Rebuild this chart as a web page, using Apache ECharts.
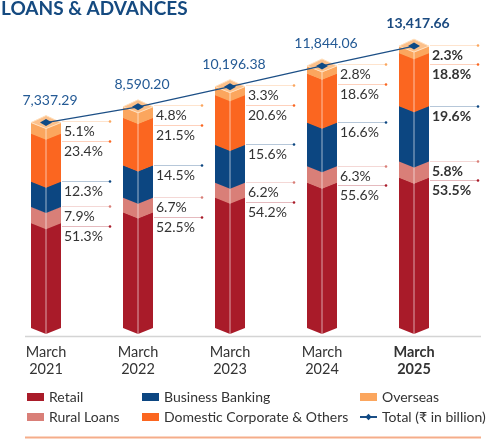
<!DOCTYPE html>
<html><head><meta charset="utf-8">
<script src="https://cdn.jsdelivr.net/npm/echarts@6/dist/echarts.min.js"></script>
<style>html,body{margin:0;padding:0;background:#fff}#c{width:487px;height:441px}</style>
</head><body><div id="c"></div>
<script>
// ---- data ----
const years = ['2021', '2022', '2023', '2024', '2025'];
const totals = [7337.29, 8590.20, 10196.38, 11844.06, 13417.66];
const retail = [51.3, 52.5, 54.2, 55.6, 53.5];
const rural = [7.9, 6.7, 6.2, 6.3, 5.8];
const business = [12.3, 14.5, 15.6, 16.6, 19.6];
const domestic = [23.4, 21.5, 20.6, 18.6, 18.8];
const overseas = [5.1, 4.8, 3.3, 2.8, 2.3];

const segNames = ['Retail', 'Rural Loans', 'Business Banking', 'Domestic Corporate & Others', 'Overseas'];
const segData = [retail, rural, business, domestic, overseas];
const segColors = ['#a91b29', '#d97f78', '#0c4681', '#fb6620', '#fba65e'];
const Y_MIN = -9000, Y_MAX = 14000;
const FONT = 'Lato, "Noto Sans", "DejaVu Sans", sans-serif';

function rgba(hex, a) {
  const n = parseInt(hex.slice(1), 16);
  return 'rgba(' + (n >> 16 & 255) + ',' + (n >> 8 & 255) + ',' + (n & 255) + ',' + a + ')';
}

function layout(api, i) {
  const xc = api.coord([i, 0])[0];
  const yBase = api.coord([i, Y_MIN])[1];
  const yTop = api.coord([i, totals[i]])[1];
  const H = yBase - yTop;
  const pcts = segData.map(a => a[i]);
  const sum = pcts.reduce((s, v) => s + v, 0);
  const bounds = [];
  let acc = 0;
  for (let k = 0; k < 5; k++) {
    const b = yBase - H * acc / sum;
    acc += pcts[k];
    const t = yBase - H * acc / sum;
    bounds.push([b, t]);
  }
  const lines = new Array(5);
  let prev = -Infinity;
  for (let k = 4; k >= 0; k--) {
    const ly = Math.max(bounds[k][1] - (k === 4 ? 1.5 : 0), prev + 19.5);
    lines[k] = ly; prev = ly;
  }
  return { xc, yBase, yTop, bounds, lines };
}

function makeRender(k) {
  return function (params, api) {
    const i = api.value(0);
    const L = layout(api, i);
    const w = 15, d = 6;
    const xc = L.xc, xl = xc - w, xr = xc + w;
    const yb = L.bounds[k][0] + (k === 0 ? 0 : 0.6);
    const yt = L.bounds[k][1];
    const col = segColors[k];
    const bold = i === 4;
    const ch = [];
    ch.push({ type: 'polygon', shape: { points: [[xl, yt], [xc, yt + d], [xc, yb + d], [xl, yb]] }, style: { fill: col } });
    ch.push({ type: 'polygon', shape: { points: [[xc, yt + d], [xr, yt], [xr, yb], [xc, yb + d]] }, style: { fill: col } });
    ch.push({ type: 'line', shape: { x1: xc, y1: yt + d, x2: xc, y2: yb + d }, style: { stroke: 'rgba(255,255,255,0.6)', lineWidth: 1 } });
    if (k === 4) {
      ch.push({ type: 'polygon', shape: { points: [[xl, yt], [xc, yt - 7], [xr, yt], [xc, yt + d]] }, style: { fill: '#fcc08a', stroke: '#ffe0bf', lineWidth: 1 } });
    }
    const ly = Math.round(L.lines[k]) + 0.5;
    ch.push({ type: 'line', shape: { x1: xr + 1, y1: ly, x2: xc + 64, y2: ly }, style: { stroke: rgba(col, 0.3), lineWidth: 1 } });
    ch.push({ type: 'circle', shape: { cx: xc + 64, cy: ly, r: 1.3 }, style: { fill: col } });
    ch.push({ type: 'text', style: { text: segData[k][i].toFixed(1) + '%', x: xr + 3, y: ly + 2.5, align: 'left', verticalAlign: 'top', fill: '#333', fontSize: 14, fontWeight: bold ? 'bold' : 'normal', fontFamily: FONT } });
    return { type: 'group', children: ch };
  };
}

const series = segNames.map((name, k) => ({
  name, type: 'custom', renderItem: makeRender(k),
  itemStyle: { color: segColors[k] },
  encode: { x: 0, y: 1 },
  data: segData[k].map((v, i) => [i, v]),
  z: 2
}));

series.push({
  name: 'Total (₹ in billion)', type: 'line', z: 10,
  data: totals.map((v, i) => ({
    value: v,
    label: i === 4 ? { fontWeight: 'bold', color: '#1a4a80' } : undefined
  })),
  symbol: 'diamond', symbolSize: [12, 7],
  itemStyle: { color: '#0f4a85' },
  lineStyle: { color: '#1c4f86', width: 1.2 },
  label: {
    show: true, position: 'top', distance: 12, offset: [4, 0],
    color: '#245a95', fontSize: 14, fontFamily: FONT,
    formatter: p => p.value.toLocaleString('en-US', { minimumFractionDigits: 2, maximumFractionDigits: 2 })
  }
});

const legendCommon = {
  orient: 'vertical', top: 390, itemWidth: 17, itemHeight: 8, itemGap: 6, padding: 0,
  textStyle: { fontSize: 14, color: '#333', fontFamily: FONT }, selectedMode: false
};

const option = {
  animation: false,
  title: { text: 'LOANS & ADVANCES', left: 1, top: -1, padding: 0,
    textStyle: { fontSize: 19, fontWeight: 'bold', color: '#154a80', fontFamily: FONT } },
  grid: { left: -2, width: 462, top: 38.8, bottom: 113 },
  xAxis: {
    type: 'category', data: years,
    axisLine: { show: false }, axisTick: { show: false },
    axisLabel: {
      margin: 16, lineHeight: 17, fontSize: 14.5, color: '#333', fontFamily: FONT,
      formatter: (v, idx) => idx === 4 ? '{b|March}\n{b|' + v + '}' : 'March\n' + v,
      rich: { b: { fontWeight: 'bold', fontSize: 14.5, lineHeight: 17, color: '#333', fontFamily: FONT } }
    }
  },
  yAxis: { type: 'value', show: false, min: Y_MIN, max: Y_MAX, splitLine: { show: false } },
  legend: [
    Object.assign({}, legendCommon, { left: 27, data: [{ name: 'Retail', icon: 'rect' }, { name: 'Rural Loans', icon: 'rect' }] }),
    Object.assign({}, legendCommon, { left: 142, data: [{ name: 'Business Banking', icon: 'rect' }, { name: 'Domestic Corporate & Others', icon: 'rect' }] }),
    Object.assign({}, legendCommon, { left: 359, data: [{ name: 'Overseas', icon: 'rect' }, { name: 'Total (₹ in billion)' }] })
  ],
  graphic: [
    { type: 'line', shape: { x1: 25, y1: 336.5, x2: 481, y2: 336.5 }, style: { stroke: '#d4d4d4', lineWidth: 1.5 }, silent: true },
    { type: 'line', shape: { x1: 25, y1: 437.5, x2: 481, y2: 437.5 }, style: { stroke: '#f5ad8a', lineWidth: 2 }, silent: true }
  ],
  series
};

const chart = echarts.init(document.getElementById('c'), null, { renderer: 'canvas' });
chart.setOption(option);
</script>
</body></html>
